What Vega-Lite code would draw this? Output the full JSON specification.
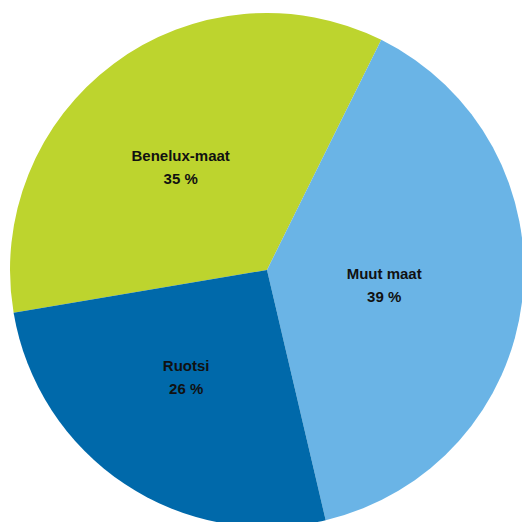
{
  "$schema": "https://vega.github.io/schema/vega-lite/v6.json",
  "width": 510,
  "height": 504,
  "autosize": {"type": "none"},
  "padding": {"left": 12, "top": 18, "right": 0, "bottom": 0},
  "background": "white",
  "view": {"stroke": null},
  "data": {
    "values": [
      {"category": "Benelux-maat", "value": 35},
      {"category": "Muut maat", "value": 39},
      {"category": "Ruotsi", "value": 26}
    ]
  },
  "transform": [
    {"calculate": "datum.category + '\\n' + datum.value + ' %'", "as": "label"}
  ],
  "encoding": {
    "theta": {
      "field": "value",
      "type": "quantitative",
      "stack": true,
      "scale": {"range": [4.5448, 10.8280]}
    },
    "order": {"field": "category", "sort": "ascending"}
  },
  "layer": [
    {
      "mark": {"type": "arc", "outerRadius": 257, "stroke": null},
      "encoding": {
        "color": {
          "field": "category",
          "type": "nominal",
          "scale": {
            "domain": ["Benelux-maat", "Muut maat", "Ruotsi"],
            "range": ["#BDD42E", "#6AB4E6", "#0069AA"]
          },
          "legend": null
        }
      }
    },
    {
      "mark": {
        "type": "text",
        "radius": 128,
        "dx": -10,
        "dy": -11,
        "font": "Liberation Sans",
        "fontWeight": "bold",
        "fontSize": 15,
        "lineBreak": "\n",
        "lineHeight": 23,
        "align": "center",
        "baseline": "middle",
        "color": "#111111"
      },
      "encoding": {
        "text": {"field": "label", "type": "nominal"}
      }
    }
  ]
}
